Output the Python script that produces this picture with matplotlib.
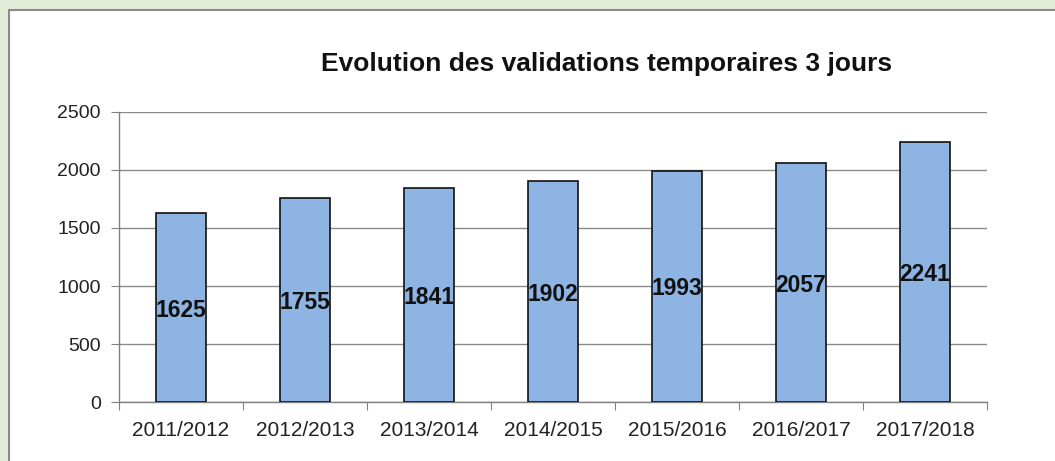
import matplotlib.pyplot as plt
from matplotlib.patches import Rectangle

# data
saisons = ["2011/2012", "2012/2013", "2013/2014", "2014/2015",
           "2015/2016", "2016/2017", "2017/2018"]
validations = [1625, 1755, 1841, 1902, 1993, 2057, 2241]
yticks = [0, 500, 1000, 1500, 2000, 2500]

W, H = 1055, 461
fig = plt.figure(figsize=(W / 100, H / 100), dpi=100)
fig.patch.set_facecolor('#e2edd9')

# white chart panel with thin grey border, on its own background axes
bg = fig.add_axes([0, 0, 1, 1], zorder=0)
bg.set_xlim(0, W)
bg.set_ylim(H, 0)
bg.axis('off')
bg.add_patch(Rectangle((9, 10), W + 20, H + 20, facecolor='white',
                       edgecolor='#8a8a8a', lw=1.5))

ax = fig.add_axes([119 / W, 1 - 402 / H, (987 - 119) / W, (402 - 112) / H], zorder=1)
ax.set_facecolor('none')

x = list(range(len(saisons)))
bars = ax.bar(x, validations, width=0.41, color='#8eb4e3', edgecolor='#111111',
              linewidth=1.2, zorder=3)

# labels in the middle of each bar
for xi, v in zip(x, validations):
    ax.text(xi, v / 2 - 20, str(v), ha='center', va='center', fontsize=16.5,
            fontweight='bold', family='Liberation Sans', color='#111111', zorder=4)

ax.set_xlim(-0.5, len(saisons) - 0.5)
ax.set_ylim(0, 2500)
ax.set_yticks(yticks)
ax.set_yticklabels([str(t) for t in yticks], family='Liberation Sans', fontsize=14,
                   color='#222222')
ax.tick_params(axis='y', length=6, color='#808080', pad=7)

# tick marks between the categories, labels at the centres
ax.set_xticks([i - 0.5 for i in range(len(saisons) + 1)])
ax.set_xticklabels([])
ax.tick_params(axis='x', which='major', length=6, color='#808080')
ax.set_xticks(x, minor=True)
ax.set_xticklabels(saisons, minor=True, family='Liberation Sans', fontsize=15,
                   color='#222222')
ax.tick_params(axis='x', which='minor', length=0, pad=14)

ax.grid(axis='y', color='#8a8a8a', linewidth=1.0, zorder=1)
for s in ['top', 'right']:
    ax.spines[s].set_visible(False)
for s in ['left', 'bottom']:
    ax.spines[s].set_color('#808080')
    ax.spines[s].set_linewidth(1.0)

fig.text(607 / W, 1 - 64 / H, "Evolution des validations temporaires 3 jours",
         ha='center', va='center', fontsize=19, fontweight='bold',
         family='Liberation Sans', color='#111111')

fig.savefig('out.png', dpi=100, facecolor=fig.get_facecolor())
